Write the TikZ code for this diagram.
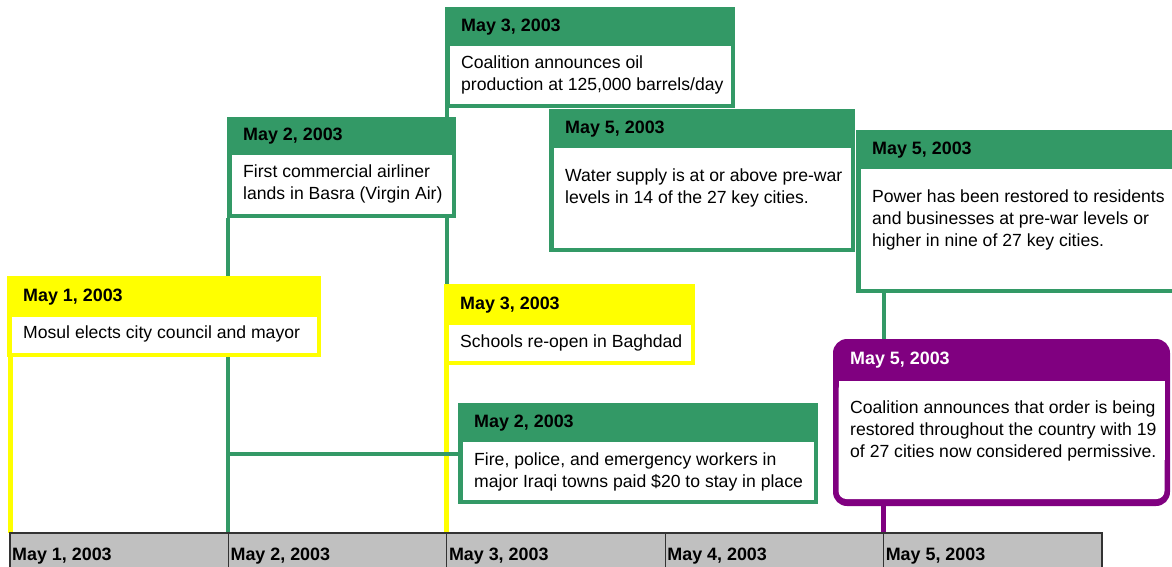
\documentclass[tikz,border=0pt]{standalone}
\usepackage{fontspec}
\setmainfont{Liberation Sans}
\usetikzlibrary{positioning, backgrounds}
\definecolor{eventgreen}{RGB}{51,153,102}
\definecolor{eventyellow}{RGB}{255,255,0}
\definecolor{eventpurple}{RGB}{128,0,128}
\definecolor{axisgrey}{RGB}{192,192,192}

\begin{document}
\begin{tikzpicture}[
		x=1pt, y=-1pt,
		eventbox/.style={anchor=north west, inner sep=0pt, outer sep=0pt},
		bodybox/.style={anchor=north west, fill=white, inner sep=0pt, outer sep=0pt},
		datelabel/.style={anchor=base west, inner sep=0pt, font=\fontsize{17.9}{22}\selectfont\bfseries},
		bodytext/.style={anchor=base west, inner sep=0pt, align=left, font=\fontsize{17.6}{22}\selectfont},
		daycell/.style={anchor=north west, draw=black!80, line width=1.2pt, fill=axisgrey, minimum width=218.4pt, minimum height=45pt, inner sep=0pt, outer sep=0pt},
		daylabel/.style={anchor=base west, inner sep=0pt, font=\fontsize{17.9}{22}\selectfont\bfseries},
		greenline/.style={draw=eventgreen, line width=4pt},
		yellowline/.style={draw=eventyellow, line width=5pt},
		purpleline/.style={draw=eventpurple, line width=5pt}
	]

	\useasboundingbox (0,0) rectangle (1172,566);

	% time axis
	\foreach \i in {1, ..., 5}
		\node [daycell] (d\i) at (10+218.4*\i-218.4, 533) {};
	\foreach \i in {1, ..., 5}
		\node [daylabel] (d\i-label) at ([xshift=2pt, yshift=-27pt]d\i.north west) {May \i, 2003};

	% event boxes
	\foreach \nm/\px/\py/\ww/\hh/\hb/\col/\dt in {
		e1/7/276/314/81/41/eventyellow/1,
		e2/227/117/229/101/38/eventgreen/2,
		e3/445/7/290/101/39/eventgreen/3,
		e4/549/109/306/143/39/eventgreen/5,
		e5/856/130/330/163/39/eventgreen/5,
		e7/444/284/251/81/41/eventyellow/3,
		e8/458/403/360/101/39/eventgreen/2}
	{
		\node [eventbox, fill=\col, minimum width=\ww, minimum height=\hh] (\nm) at (\px, \py) {};
		\node [bodybox, minimum width=\ww-9, minimum height=\hh-\hb-4.5] (\nm-body) at (\px+4.5, \py+\hb) {};
		\node [datelabel] (\nm-date) at (\px+16, \py+\hb/2+4.5) {May \dt, 2003};
	}

	% rounded event
	\node [eventbox, fill=eventpurple, rounded corners=14pt, minimum width=337, minimum height=167] (e6) at (833, 339) {};
	\node [bodybox, rounded corners=8pt, minimum width=326, minimum height=118] (e6-body) at (838.5, 381) {};
	\fill [white] (e6-body.north west) rectangle ([yshift=-20pt]e6-body.east);
	\node [datelabel, text=white] (e6-date) at (850, 364.5) {May 5, 2003};

	% event texts (base = last line)
	\node [bodytext] (e1-text) at ([xshift=11.5pt, yshift=-21pt]e1-body.north west) {Mosul elects city council and mayor};
	\node [bodytext] (e2-text) at ([xshift=11.5pt, yshift=-44pt]e2-body.north west) {First commercial airliner\\lands in Basra (Virgin Air)};
	\node [bodytext] (e3-text) at ([xshift=11.5pt, yshift=-44pt]e3-body.north west) {Coalition announces oil\\production at 125,000 barrels/day};
	\node [bodytext] (e4-text) at ([xshift=11.5pt, yshift=-55pt]e4-body.north west) {Water supply is at or above pre-war\\levels in 14 of the 27 key cities.};
	\node [bodytext] (e5-text) at ([xshift=11.5pt, yshift=-77pt]e5-body.north west) {Power has been restored to residents\\and businesses at pre-war levels or\\higher in nine of 27 key cities.};
	\node [bodytext] (e6-text) at ([xshift=11.5pt, yshift=-76pt]e6-body.north west) {Coalition announces that order is being\\restored throughout the country with 19\\of 27 cities now considered permissive.};
	\node [bodytext] (e7-text) at ([xshift=11.5pt, yshift=-22pt]e7-body.north west) {Schools re-open in Baghdad};
	\node [bodytext] (e8-text) at ([xshift=11.5pt, yshift=-45pt]e8-body.north west) {Fire, police, and emergency workers in\\major Iraqi towns paid \$20 to stay in place};

	% connectors
	\begin{scope}[on background layer]
		\draw [yellowline] (d1.north west |- e1.south) -- (d1.north west);
		\draw [greenline] (d2.north west |- e2.south) -- (d2.north west);
		\draw [greenline] (d3.north west |- e3.south) -- (d3.north west |- e7.north);
		\draw [yellowline] (d3.north west |- e7.south) -- (d3.north west);
		\draw [greenline] (e8.west) -- (e8.west -| d2.north west);
		\draw [greenline] (d5.north west |- e5.south) -- (d5.north west |- e6.north);
		\draw [purpleline] (d5.north west |- e6.south) -- (d5.north west);
	\end{scope}
\end{tikzpicture}
\end{document}
